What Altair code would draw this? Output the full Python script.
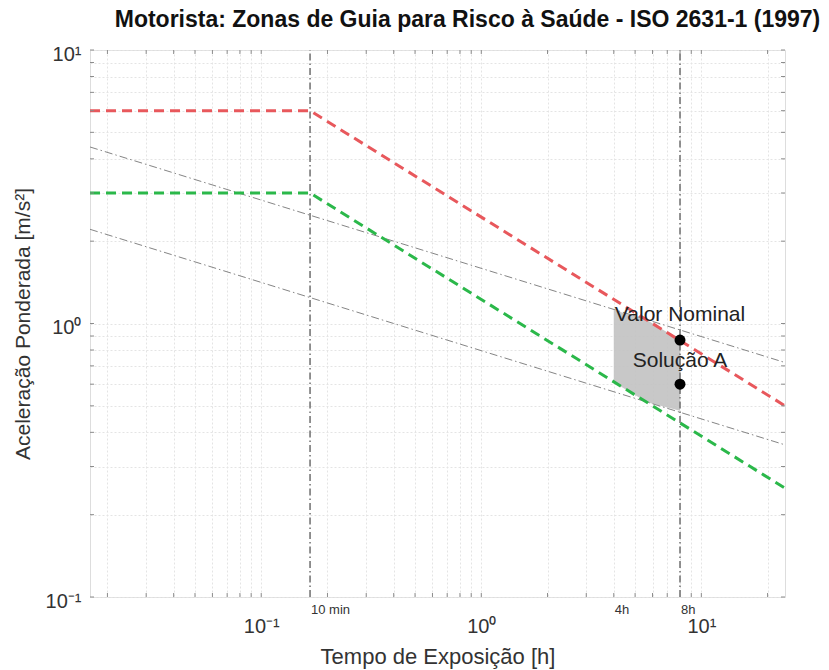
import altair as alt
import pandas as pd

# ISO 2631-1 health guidance caution zone, eq. B.1 (a * t^1/2 = const), flat below 10 min
b1_time = [1 / 60, 1 / 6, 24]
b1_upper = [6.0, 6.0, 0.50]
b1_lower = [3.0, 3.0, 0.25]

# eq. B.2 limits (a * t^1/4 = const)
b2_time = [1 / 60, 24]
b2_upper = [4.42, 0.72]
b2_lower = [2.21, 0.36]

# overlap of both zones between 4 h and 8 h
zone_time = [4, 5.66, 8]
zone_top = [1.12, 1.03, 0.87]
zone_bottom = [0.61, 0.515, 0.48]

# evaluated configurations
point_names = ["Valor Nominal", "Solução A"]
point_time = [8, 8]
point_accel = [0.87, 0.60]
point_dy = [-25, -23]

# reference exposure times
marker_names = ["10 min", "4h", "8h"]
marker_time = [1 / 6, 4, 8]
marker_lines = [1 / 6, 8]

# log grid positions
x_grid = [0.02, 0.03, 0.04, 0.05, 0.06, 0.07, 0.08, 0.09,
          0.1, 0.2, 0.3, 0.4, 0.5, 0.6, 0.7, 0.8, 0.9,
          1, 2, 3, 4, 5, 6, 7, 8, 9, 10, 20]
y_grid = [0.1, 0.2, 0.3, 0.4, 0.5, 0.6, 0.7, 0.8, 0.9,
          1, 2, 3, 4, 5, 6, 7, 8, 9, 10]

W, H = 695, 547
FONT = "Liberation Sans"
RED = "#e8585c"
GREEN = "#2bb84a"

x_scale = alt.Scale(type="log", domain=[1 / 60, 24], nice=False)
y_scale = alt.Scale(type="log", domain=[0.1, 10], nice=False)

pow_expr = ("datum.value == 0.1 ? '10⁻¹' : datum.value == 1 ? '10⁰' : "
            "datum.value == 10 ? '10¹' : ''")

x_axis = alt.Axis(values=x_grid, labelExpr=pow_expr, grid=True, gridColor="#e4e4e4",
                  gridDash=[2, 2], ticks=False, domain=False, labelFontSize=20,
                  labelColor="#333", labelPadding=19, labelOverlap=False,
                  labelFlush=False, labelBound=False, labelFont=FONT,
                  title="Tempo de Exposição [h]", titleFont=FONT, titleFontSize=22,
                  titleFontWeight="normal", titleColor="#333", titlePadding=10)
y_axis = alt.Axis(values=y_grid, labelExpr=pow_expr, grid=True, gridColor="#e4e4e4",
                  gridDash=[2, 2], ticks=False, domain=False, labelFontSize=20,
                  labelColor="#333", labelPadding=9, labelOverlap=False,
                  labelFlush=False, labelBound=False, labelFont=FONT, labelOffset=4,
                  title="Aceleração Ponderada [m/s²]", titleFont=FONT, titleFontSize=21,
                  titleFontWeight="normal", titleColor="#333", titlePadding=12)


def xq(field):
    return alt.X(field, type="quantitative", scale=x_scale, axis=x_axis)


def yq(field):
    return alt.Y(field, type="quantitative", scale=y_scale, axis=y_axis)


zone_df = pd.DataFrame({"t": zone_time, "top": zone_top, "bottom": zone_bottom})
b1_df = pd.concat([
    pd.DataFrame({"t": b1_time, "a": b1_upper, "s": "upper"}),
    pd.DataFrame({"t": b1_time, "a": b1_lower, "s": "lower"}),
])
b2_df = pd.concat([
    pd.DataFrame({"t": b2_time, "a": b2_upper, "s": "upper"}),
    pd.DataFrame({"t": b2_time, "a": b2_lower, "s": "lower"}),
])
points_df = pd.DataFrame({"name": point_names, "t": point_time, "a": point_accel})
markers_df = pd.DataFrame({"name": marker_names, "t": marker_time})
vlines_df = pd.DataFrame({"t": marker_lines, "lo": 0.1, "hi": 10.0})
xg_df = pd.DataFrame({"t": x_grid})
yg_df = pd.DataFrame({"a": y_grid})

zone = alt.Chart(zone_df).mark_area(color="#c2c2c2", opacity=0.9).encode(
    x=xq("t"), y=yq("top"), y2="bottom")

b2_lines = alt.Chart(b2_df).mark_line(
    color="#858585", strokeWidth=1, strokeDash=[8, 3, 1.5, 3]
).encode(x=xq("t"), y=yq("a"), detail="s:N")

red = alt.Chart(b1_df[b1_df.s == "upper"]).mark_line(
    color=RED, strokeWidth=3, strokeDash=[10, 6]
).encode(x=xq("t"), y=yq("a"))

green = alt.Chart(b1_df[b1_df.s == "lower"]).mark_line(
    color=GREEN, strokeWidth=3, strokeDash=[10, 6]
).encode(x=xq("t"), y=yq("a"))

vlines = alt.Chart(vlines_df).mark_rule(
    color="#6e6e6e", strokeWidth=1.5, strokeDash=[7, 3, 1.5, 3]
).encode(x=xq("t"), y=yq("lo"), y2="hi")

dots = alt.Chart(points_df).mark_circle(size=120, color="#000", opacity=1).encode(
    x=xq("t"), y=yq("a"))

dot_label_layers = [
    alt.Chart(points_df[points_df.name == n]).mark_text(
        dy=d, fontSize=21, font=FONT, color="#222", align="center"
    ).encode(x=xq("t"), y=yq("a"), text="name:N")
    for n, d in zip(point_names, point_dy)
]

marker_labels = alt.Chart(markers_df).mark_text(
    dx=1, dy=13, fontSize=13, font=FONT, color="#333", align="left", baseline="middle"
).encode(x=xq("t"), y=alt.value(H), text="name:N")

# inward ticks on all four sides
tick_color = "#8c8c8c"
ticks_bottom = alt.Chart(xg_df).mark_rule(color=tick_color).encode(
    x=xq("t"), y=alt.value(H), y2=alt.value(H - 4))
ticks_top = alt.Chart(xg_df).mark_rule(color=tick_color).encode(
    x=xq("t"), y=alt.value(0), y2=alt.value(4))
ticks_left = alt.Chart(yg_df).mark_rule(color=tick_color).encode(
    y=yq("a"), x=alt.value(0), x2=alt.value(4))
ticks_right = alt.Chart(yg_df).mark_rule(color=tick_color).encode(
    y=yq("a"), x=alt.value(W), x2=alt.value(W - 4))

chart = alt.layer(
    zone, b2_lines, red, green, vlines, dots, *dot_label_layers, marker_labels,
    ticks_bottom, ticks_top, ticks_left, ticks_right,
).properties(
    width=W, height=H,
    title=alt.Title("Motorista: Zonas de Guia para Risco à Saúde - ISO 2631-1 (1997)",
                    font=FONT, fontSize=23, fontWeight="bold", color="#111",
                    anchor="middle", dx=30, offset=12),
    autosize=alt.AutoSizeParams(type="none"),
    padding={"left": 90, "top": 50, "right": 44, "bottom": 73},
).configure_view(stroke="#8c8c8c", strokeWidth=1.5).configure(background="white")

chart.save("out.html", embed_options={"renderer": "svg", "actions": False})
